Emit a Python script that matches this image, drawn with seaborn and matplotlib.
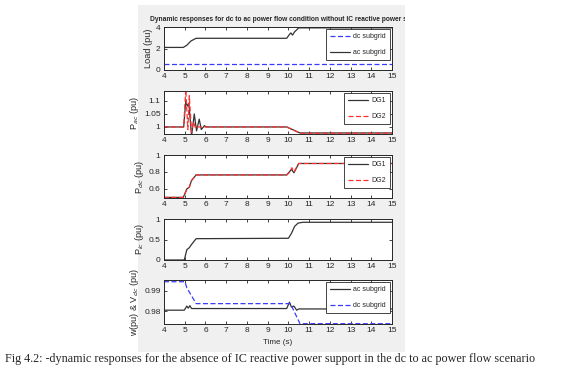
import seaborn as sns
import matplotlib.pyplot as plt
import pandas as pd
from matplotlib.patches import Rectangle

sns.set_style("ticks")
plt.rcParams['font.family'] = ['Liberation Sans Narrow', 'Liberation Sans', 'DejaVu Sans']

W, H = 573, 375
black = "#333333"
blue = "#3b3bff"
red = "#ff3030"

# load (pu)
t_load_dc = [4, 15]
load_dc = [0.57, 0.57]
t_load_ac = [4, 4.93, 5.1, 5.3, 5.55, 9.92, 10.05, 10.12, 10.2, 10.3, 10.5, 15]
load_ac = [2.1, 2.1, 2.3, 2.7, 2.95, 2.95, 3.3, 3.45, 3.25, 3.55, 3.92, 3.92]

# P_ac (pu)
t_pac_dg1 = [4, 4.95, 5.05, 5.12, 5.2, 5.33, 5.46, 5.57, 5.7, 5.8, 5.95, 6.05, 9.92, 10.56, 15]
pac_dg1 = [1.0, 1.0, 1.10, 1.08, 1.09, 0.965, 1.05, 0.985, 1.03, 0.99, 1.005, 1.0, 1.0, 0.977, 0.977]
t_pac_dg2 = [4, 4.95, 5.05, 5.15, 5.22, 5.33, 5.42, 5.52, 5.62, 9.92, 10.56, 15]
pac_dg2 = [1.0, 1.0, 1.145, 0.99, 1.12, 0.98, 1.02, 0.995, 1.0, 1.0, 0.976, 0.976]

# P_dc (pu)
t_pdc_dg1 = [4, 4.93, 5.1, 5.22, 5.33, 5.55, 9.92, 10.08, 10.15, 10.27, 10.5, 15]
pdc_dg1 = [0.5, 0.5, 0.6, 0.62, 0.7, 0.765, 0.765, 0.81, 0.83, 0.79, 0.9, 0.9]
t_pdc_dg2 = [4, 4.93, 5.1, 5.22, 5.33, 5.55, 9.92, 10.08, 10.17, 10.27, 10.5, 15]
pdc_dg2 = [0.5, 0.5, 0.59, 0.62, 0.7, 0.765, 0.765, 0.8, 0.85, 0.8, 0.9, 0.9]

# P_ic (pu)
t_pic = [4, 4.98, 5.1, 5.22, 5.33, 5.55, 10.0, 10.15, 10.3, 10.47, 10.7, 15]
pic = [0.0, 0.0, 0.25, 0.3, 0.38, 0.52, 0.53, 0.65, 0.82, 0.9, 0.92, 0.92]

# w (pu) and V_dc (pu)
t_w_ac = [4, 4.98, 5.1, 5.17, 5.25, 5.33, 9.92, 10.05, 10.15, 10.27, 10.4, 10.5, 15]
w_ac = [0.9805, 0.9805, 0.9825, 0.9815, 0.9827, 0.9813, 0.9813, 0.9844, 0.982, 0.9825, 0.9805, 0.9811, 0.9811]
t_v_dc = [4, 5.01, 5.1, 5.3, 5.55, 10.1, 10.56, 15]
v_dc = [0.9944, 0.9944, 0.9915, 0.988, 0.9837, 0.9837, 0.9739, 0.9739]

caption = ("Fig 4.2: -dynamic responses for the absence of IC reactive power support "
           "in the dc to ac power flow scenario")


def frame(series):
    rows = []
    for name, t, v in series:
        rows += [{"t": a, "v": b, "series": name} for a, b in zip(t, v)]
    return pd.DataFrame(rows)


def make_ax(fig, top, bottom, left=164, right=392):
    ax = fig.add_axes([left / W, 1 - bottom / H, (right - left) / W, (bottom - top) / H])
    ax.set_facecolor("white")
    return ax


def style_ax(ax, ylim, yticks, yticklabels, ylabel):
    ax.set_xlim(4, 15)
    ax.set_xticks(range(4, 16))
    ax.set_ylim(*ylim)
    ax.set_yticks(yticks)
    ax.set_yticklabels(yticklabels)
    ax.set_xlabel("")
    ax.set_ylabel(ylabel, family="Liberation Sans", fontsize=6.6, labelpad=2)
    ax.tick_params(direction="in", top=True, right=True, length=2.5, width=0.6,
                   labelsize=6, pad=2.5, colors="#262626")
    for s in ax.spines.values():
        s.set_linewidth(0.7)
        s.set_color("#262626")


def draw(ax, series, colors, dashes):
    df = frame(series)
    order = [s[0] for s in series]
    sns.lineplot(data=df, x="t", y="v", hue="series", style="series", hue_order=order,
                 style_order=order, palette=colors, dashes=dashes, estimator=None,
                 sort=False, linewidth=0.9, ax=ax)
    h, l = ax.get_legend_handles_labels()
    ax.legend(h, l, loc="upper right", fontsize=5, fancybox=False, framealpha=1,
              edgecolor="#262626", borderpad=0.6, handlelength=2.9, handletextpad=0.4,
              labelspacing=1.3, borderaxespad=0.3).get_frame().set_linewidth(0.6)


fig = plt.figure(figsize=(W / 100, H / 100), dpi=100)
fig.patch.set_facecolor("white")
panel = Rectangle((138 / W, 1 - 352 / H), (405 - 138) / W, (352 - 5) / H,
                  transform=fig.transFigure, facecolor="#f0f0f0", edgecolor="none", zorder=-5)
fig.patches.append(panel)

# panel 1
ax1 = make_ax(fig, 27, 70)
draw(ax1, [("dc subgrid", t_load_dc, load_dc), ("ac subgrid", t_load_ac, load_ac)],
     {"dc subgrid": blue, "ac subgrid": black}, {"dc subgrid": (4, 2), "ac subgrid": ""})
style_ax(ax1, (0, 4), [0, 2, 4], ["0", "2", "4"], "Load (pu)")
title = ax1.set_title("Dynamic responses for dc to ac power flow condition without IC reactive power support",
                      fontsize=4.75, fontweight="bold", pad=4, x=0.55)
title.set_clip_path(panel)
title.set_clip_on(True)

# panel 2
ax2 = make_ax(fig, 91, 134)
draw(ax2, [("DG1", t_pac_dg1, pac_dg1), ("DG2", t_pac_dg2, pac_dg2)],
     {"DG1": black, "DG2": red}, {"DG1": "", "DG2": (4, 2)})
style_ax(ax2, (0.973, 1.138), [1, 1.05, 1.1], ["1", "1.05", "1.1"], r"P$_{ac}$ (pu)")

# panel 3
ax3 = make_ax(fig, 155, 198)
draw(ax3, [("DG1", t_pdc_dg1, pdc_dg1), ("DG2", t_pdc_dg2, pdc_dg2)],
     {"DG1": black, "DG2": red}, {"DG1": "", "DG2": (4, 2)})
style_ax(ax3, (0.493, 1.0), [0.6, 0.8, 1.0], ["0.6", "0.8", "1"], r"P$_{dc}$ (pu)")

# panel 4
ax4 = make_ax(fig, 219, 260)
sns.lineplot(x=t_pic, y=pic, color=black, linewidth=0.9, estimator=None, sort=False, ax=ax4)
style_ax(ax4, (0, 1), [0, 0.5, 1], ["0", "0.5", "1"], r"P$_{ic}$ (pu)")

# panel 5
ax5 = make_ax(fig, 280, 324)
draw(ax5, [("ac subgrid", t_w_ac, w_ac), ("dc subgrid", t_v_dc, v_dc)],
     {"ac subgrid": black, "dc subgrid": blue}, {"ac subgrid": "", "dc subgrid": (4, 2)})
style_ax(ax5, (0.97375, 0.99524), [0.98, 0.99], ["0.98", "0.99"], r"w(pu) & V$_{dc}$ (pu)")
ax5.set_xlabel("Time (s)", fontsize=5.8, labelpad=3)

fig.text(5 / W, 1 - 359 / H, caption, family="Liberation Serif", fontsize=8.7, va="center")

fig.savefig("out.png", dpi=100)
